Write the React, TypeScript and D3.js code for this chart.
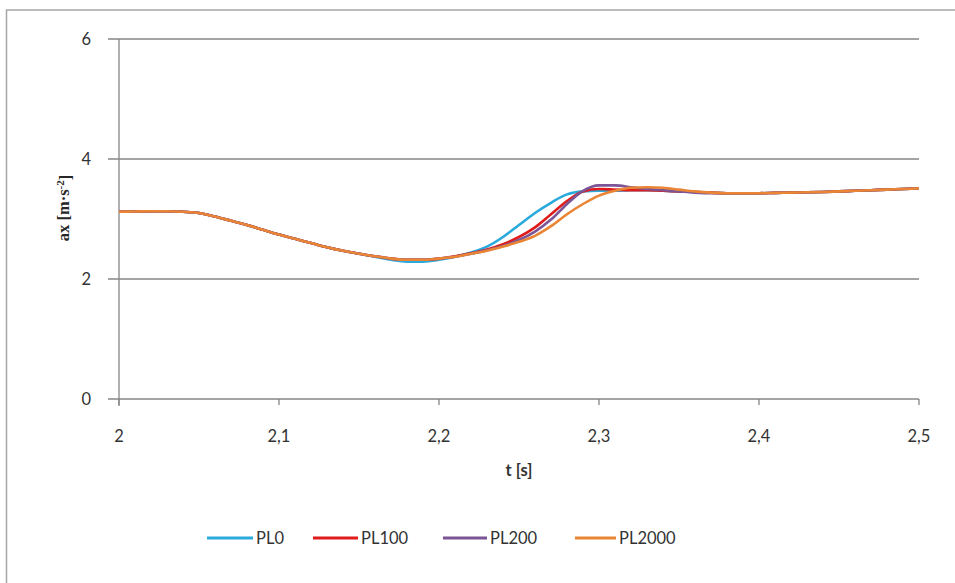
import React from "react";
import * as d3 from "d3";

const times = [
  2.0, 2.01, 2.02, 2.03, 2.04, 2.05, 2.06, 2.07, 2.08, 2.09,
  2.1, 2.11, 2.12, 2.13, 2.14, 2.15, 2.16, 2.17, 2.18, 2.19,
  2.2, 2.21, 2.22, 2.23, 2.24, 2.25, 2.26, 2.27, 2.28, 2.29,
  2.3, 2.31, 2.32, 2.33, 2.34, 2.35, 2.36, 2.37, 2.38, 2.39,
  2.4, 2.41, 2.42, 2.43, 2.44, 2.45, 2.46, 2.47, 2.48, 2.49, 2.5,
];

const pl0 = [
  3.12, 3.125, 3.13, 3.13, 3.12, 3.1, 3.04, 2.97, 2.9, 2.82,
  2.74, 2.67, 2.6, 2.53, 2.47, 2.42, 2.37, 2.32, 2.29, 2.29,
  2.32, 2.37, 2.44, 2.54, 2.7, 2.9, 3.1, 3.27, 3.41, 3.46,
  3.47, 3.47, 3.48, 3.48, 3.47, 3.46, 3.45, 3.44, 3.43, 3.43,
  3.43, 3.435, 3.44, 3.445, 3.45, 3.46, 3.47, 3.48, 3.49, 3.5, 3.51,
];

const pl100 = [
  3.12, 3.125, 3.13, 3.13, 3.12, 3.1, 3.04, 2.97, 2.9, 2.82,
  2.74, 2.67, 2.6, 2.53, 2.47, 2.42, 2.38, 2.34, 2.32, 2.32,
  2.34, 2.38, 2.43, 2.49, 2.58, 2.7, 2.86, 3.08, 3.3, 3.46,
  3.5, 3.49, 3.48, 3.48, 3.47, 3.46, 3.45, 3.44, 3.43, 3.43,
  3.43, 3.435, 3.44, 3.445, 3.45, 3.46, 3.47, 3.48, 3.49, 3.5, 3.51,
];

const pl200 = [
  3.12, 3.125, 3.13, 3.13, 3.12, 3.1, 3.04, 2.97, 2.9, 2.82,
  2.74, 2.67, 2.6, 2.53, 2.47, 2.42, 2.38, 2.34, 2.32, 2.32,
  2.34, 2.37, 2.42, 2.48, 2.55, 2.65, 2.79, 2.99, 3.25, 3.47,
  3.56, 3.56, 3.53, 3.5, 3.48, 3.46, 3.44, 3.43, 3.43, 3.43,
  3.43, 3.435, 3.44, 3.445, 3.45, 3.46, 3.47, 3.48, 3.49, 3.5, 3.51,
];

const pl2000 = [
  3.12, 3.125, 3.13, 3.13, 3.12, 3.1, 3.04, 2.97, 2.9, 2.82,
  2.74, 2.67, 2.6, 2.53, 2.47, 2.42, 2.38, 2.34, 2.32, 2.32,
  2.34, 2.37, 2.42, 2.47, 2.54, 2.62, 2.72, 2.88, 3.08, 3.25,
  3.39, 3.47, 3.52, 3.53, 3.52, 3.49, 3.46, 3.44, 3.43, 3.43,
  3.43, 3.435, 3.44, 3.445, 3.45, 3.46, 3.47, 3.48, 3.49, 3.5, 3.51,
];

const seriesNames = ["PL0", "PL100", "PL200", "PL2000"];
const seriesValues = [pl0, pl100, pl200, pl2000];
const seriesColors = ["#2aa9dc", "#e01b1b", "#7b5596", "#e98535"];

const xTicks = [2, 2.1, 2.2, 2.3, 2.4, 2.5];
const xTickLabels = ["2", "2,1", "2,2", "2,3", "2,4", "2,5"];
const yTicks = [0, 2, 4, 6];

const W = 955;
const H = 583;
const plot = { left: 119, right: 919, top: 39, bottom: 399 };

export default function App() {
  const x = d3.scaleLinear().domain([2, 2.5]).range([plot.left, plot.right]);
  const y = d3.scaleLinear().domain([0, 6]).range([plot.bottom, plot.top]);
  const line = d3
    .line<number>()
    .x((_, i) => x(times[i]))
    .y((d) => y(d))
    .curve(d3.curveMonotoneX);

  const axisColor = "#868686";
  const labelFont = "Lato, 'Open Sans', sans-serif";
  const legendItems = [
    { lx: 207, tx: 256 },
    { lx: 313, tx: 361 },
    { lx: 443, tx: 490 },
    { lx: 575, tx: 619 },
  ];

  return (
    <svg
      width={W}
      height={H}
      style={{ position: "absolute", left: 0, top: 0, background: "#fff" }}
    >
      <rect x={0} y={0} width={W} height={H} fill="#fff" />
      <rect
        x={6.5}
        y={10}
        width={W + 10}
        height={H + 10}
        fill="#fff"
        stroke="#a6a6a6"
        strokeWidth={1.5}
      />
      {yTicks.map((t) => (
        <g key={"y" + t}>
          <line
            x1={plot.left - 11}
            x2={plot.right}
            y1={y(t)}
            y2={y(t)}
            stroke={axisColor}
            strokeWidth={1.3}
          />
          <text
            x={91}
            y={y(t)}
            dy="0.35em"
            textAnchor="end"
            fontFamily={labelFont}
            fontSize={16.5}
            fill="#333"
          >
            {t}
          </text>
        </g>
      ))}
      <line
        x1={plot.left}
        x2={plot.left}
        y1={plot.top}
        y2={plot.bottom + 7}
        stroke={axisColor}
        strokeWidth={1.3}
      />
      {xTicks.map((t, i) => (
        <g key={"x" + t}>
          <line
            x1={x(t)}
            x2={x(t)}
            y1={plot.bottom}
            y2={plot.bottom + 6}
            stroke={axisColor}
            strokeWidth={1.3}
          />
          <text
            x={x(t)}
            y={436}
            dy="0.35em"
            textAnchor="middle"
            fontFamily={labelFont}
            fontSize={16.5}
            fill="#333"
          >
            {xTickLabels[i]}
          </text>
        </g>
      ))}
      {seriesValues.map((vals, i) => (
        <path
          key={seriesNames[i]}
          d={line(vals) || ""}
          fill="none"
          stroke={seriesColors[i]}
          strokeWidth={2.6}
          strokeLinejoin="round"
        />
      ))}
      <text
        x={519}
        y={470}
        dy="0.35em"
        textAnchor="middle"
        fontFamily={labelFont}
        fontWeight="bold"
        fontSize={16.5}
        fill="#333"
      >
        t [s]
      </text>
      <text
        transform="translate(63,208) rotate(-90)"
        textAnchor="middle"
        dy="0.35em"
        fontFamily="'Liberation Serif', 'Times New Roman', serif"
        fontWeight="bold"
        fontSize={16.5}
        fill="#262626"
      >
        ax [m·s
        <tspan dy="-0.45em" fontSize={11}>
          -2
        </tspan>
        <tspan dy="0.45em">]</tspan>
      </text>
      {legendItems.map((it, i) => (
        <g key={"lg" + i}>
          <line
            x1={it.lx}
            x2={it.tx - 3}
            y1={538}
            y2={538}
            stroke={seriesColors[i]}
            strokeWidth={3}
          />
          <text
            x={it.tx}
            y={538}
            dy="0.35em"
            fontFamily={labelFont}
            fontSize={16.5}
            fill="#333"
          >
            {seriesNames[i]}
          </text>
        </g>
      ))}
    </svg>
  );
}
